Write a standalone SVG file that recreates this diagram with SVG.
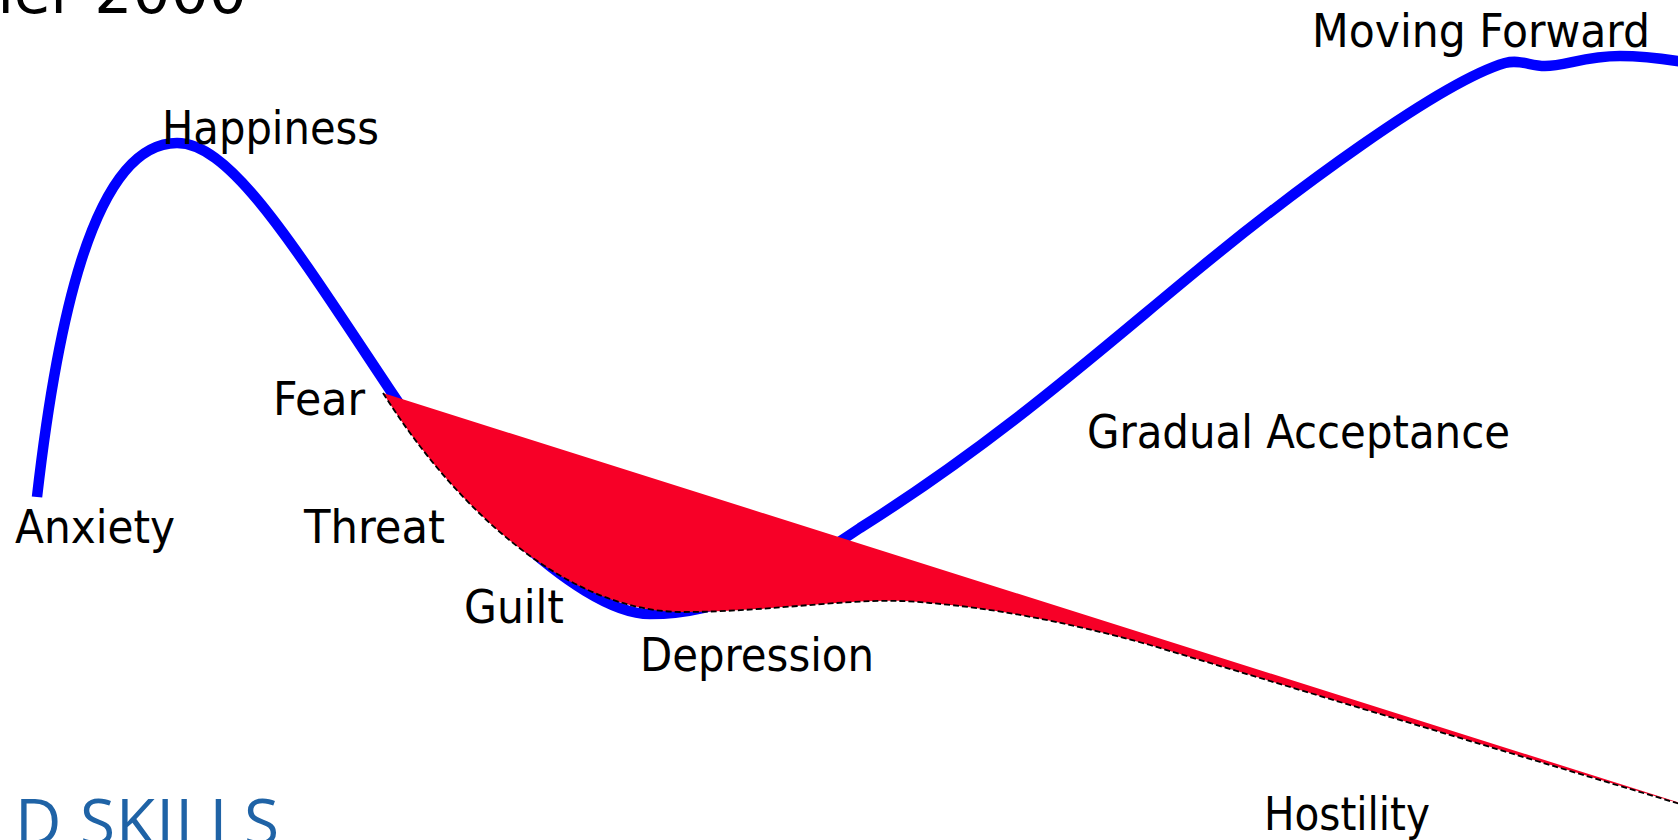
<svg xmlns="http://www.w3.org/2000/svg" width="1678" height="840" viewBox="0 0 1678 840">
<style>
.lbl{font-family:"DejaVu Sans Condensed","DejaVu Sans",sans-serif;font-size:47px;fill:#000}
.curve{fill:none;stroke:#0000ff;stroke-width:10.5;stroke-linejoin:round}
.area{fill:#f70027;stroke:none}
.dash{fill:none;stroke:#000;stroke-width:1.8;stroke-dasharray:6 3}
</style>
<rect width="1678" height="840" fill="#fff"/>
<g id="title"><text x="247" y="13" text-anchor="end" style="font-family:'DejaVu Sans',sans-serif;font-size:60px;fill:#000">Fisher 2000</text></g>
<g id="connectors">
<path class="curve" d="M37,497 C55,340 90,143 177,143 C230,143 290,240 390,390 C445,475 575,614 650,614 C730,614 790,575 860,528 C1000,440 1100,350 1200,268 C1290,194 1440,82 1505,63 C1520,59 1530,66 1545,66 C1565,66 1585,56 1620,56 C1650,56 1670,60 1690,63"/>
<path class="area" d="M383,393 L1690,806 L1690,807 L1678,803 L1150,645 C1060,620 990,608 930,603 C860,595 780,612 680,612 C560,610 450,500 383,393 Z"/>
<path class="dash" d="M383,393 C450,500 560,610 680,612 C780,612 860,595 930,603 C990,608 1060,620 1150,645 L1690,807"/>
</g>
<g id="anxiety"><text class="lbl" x="15" y="543" textLength="160" lengthAdjust="spacingAndGlyphs">Anxiety</text></g>
<g id="happiness"><text class="lbl" x="162" y="143.5" textLength="217" lengthAdjust="spacingAndGlyphs">Happiness</text></g>
<g id="fear"><text class="lbl" x="273" y="415" textLength="92" lengthAdjust="spacingAndGlyphs">Fear</text></g>
<g id="threat"><text class="lbl" x="304" y="543" textLength="141" lengthAdjust="spacingAndGlyphs">Threat</text></g>
<g id="guilt"><text class="lbl" x="464" y="623" textLength="100" lengthAdjust="spacingAndGlyphs">Guilt</text></g>
<g id="depression"><text class="lbl" x="640" y="671" textLength="234" lengthAdjust="spacingAndGlyphs">Depression</text></g>
<g id="gradual-acceptance"><text class="lbl" x="1087" y="448" textLength="423" lengthAdjust="spacingAndGlyphs">Gradual Acceptance</text></g>
<g id="moving-forward"><text class="lbl" x="1312" y="47" textLength="338" lengthAdjust="spacingAndGlyphs">Moving Forward</text></g>
<g id="hostility"><text class="lbl" x="1264" y="830" textLength="166" lengthAdjust="spacingAndGlyphs">Hostility</text></g>
<g id="logo"><text x="15" y="845" textLength="264" style="font-family:'Open Sans',sans-serif;font-size:64px;fill:#1f63a6">D SKILLS</text></g>
</svg>
